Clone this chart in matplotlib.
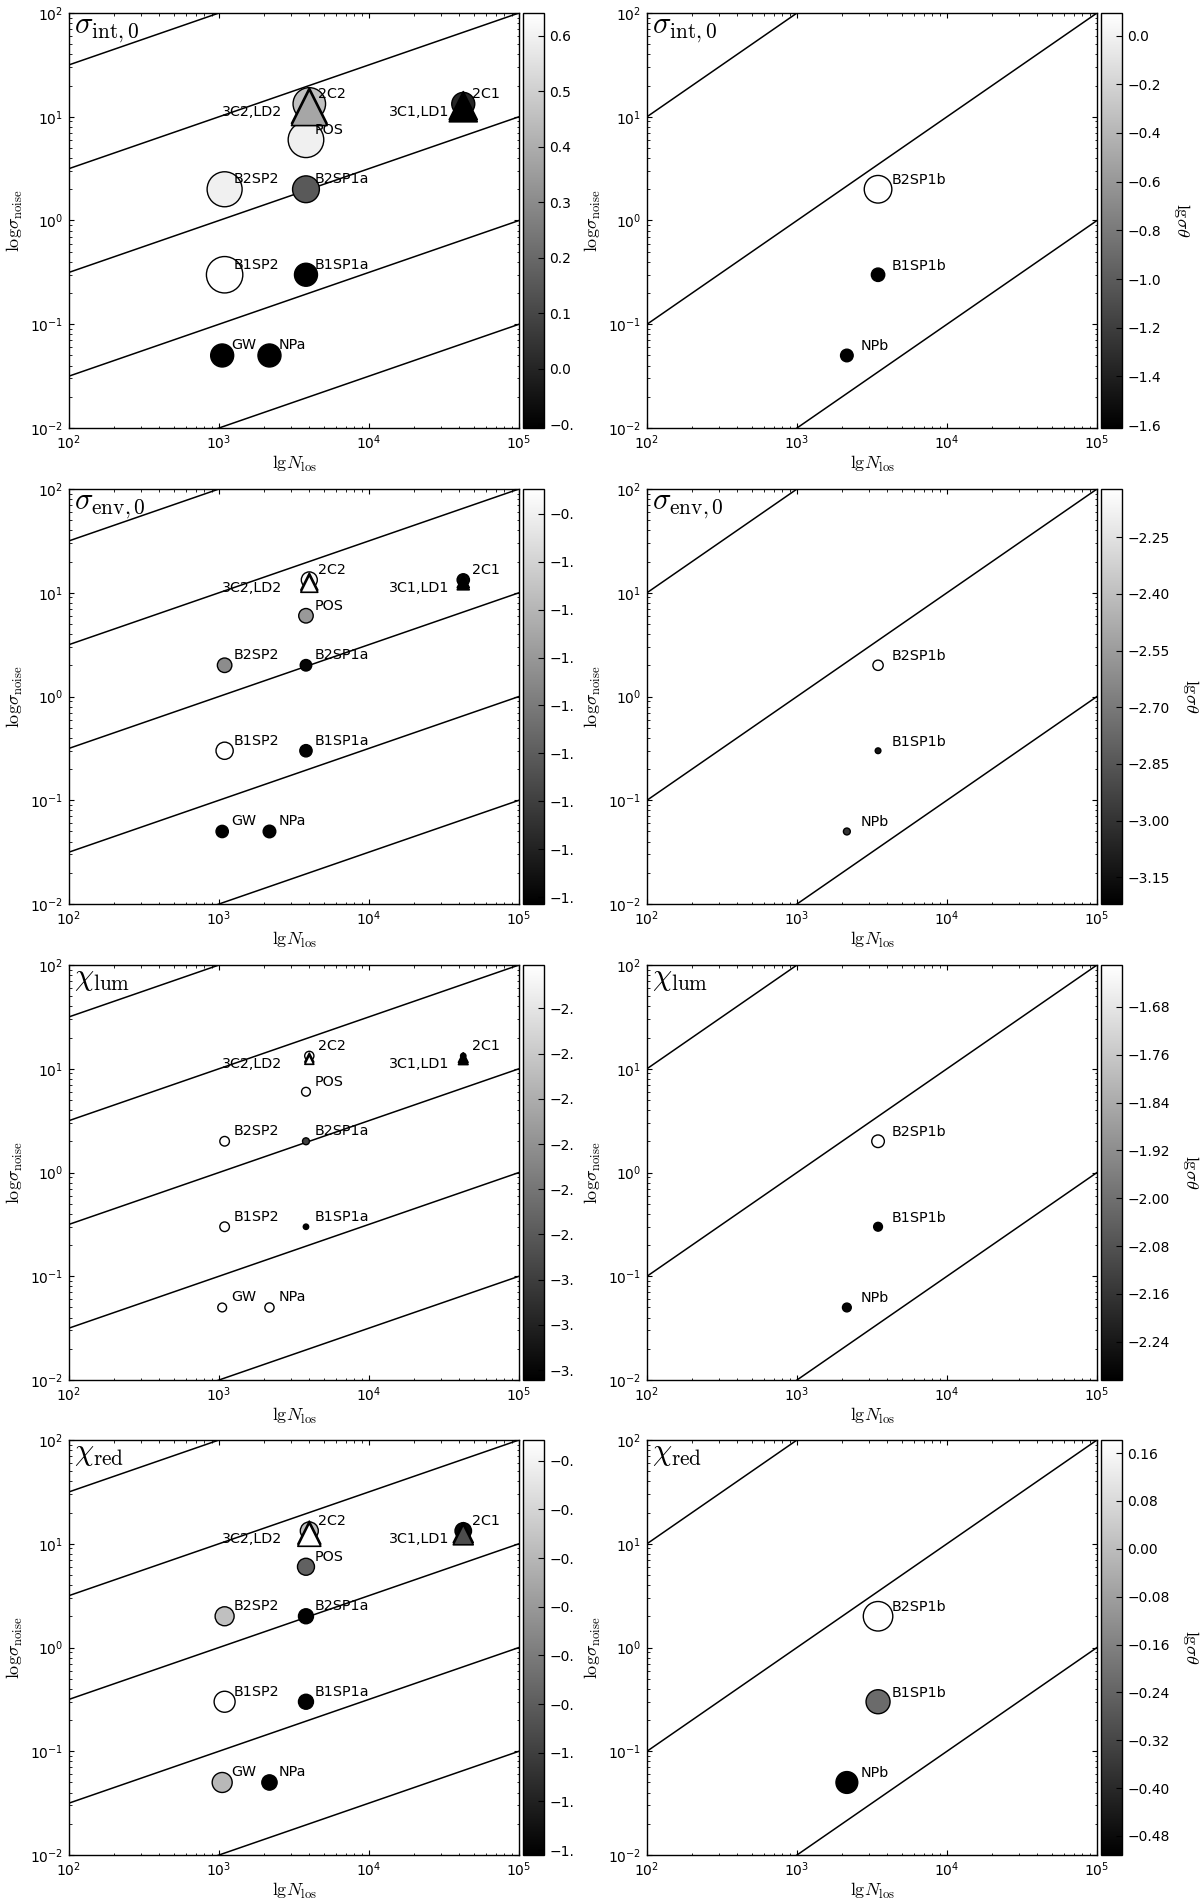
import numpy as np
import matplotlib
matplotlib.use('Agg')
import matplotlib.pyplot as plt
from matplotlib.ticker import FuncFormatter

plt.rcParams['font.family'] = ['DejaVu Sans']
plt.rcParams['mathtext.fontset'] = 'cm'
plt.rcParams['xtick.direction'] = 'in'
plt.rcParams['ytick.direction'] = 'in'
plt.rcParams['xtick.top'] = True
plt.rcParams['ytick.right'] = True

# survey points, left column (circles and triangles)
circ_names = ['GW', 'NPa', 'B1SP2', 'B1SP1a', 'B2SP2', 'B2SP1a', 'POS', '2C2', '2C1']
circ_nlos = [1050, 2170, 1090, 3800, 1090, 3800, 3800, 4000, 42500]
circ_noise = [0.05, 0.05, 0.3, 0.3, 2.0, 2.0, 6.0, 13.3, 13.3]

tri_names = ['3C2', 'LD2', '3C1', 'LD1']
tri_nlos = [4000, 4000, 42500, 42500]
tri_noise = [12.8, 12.2, 12.8, 12.2]
tri_labels = {'3C2': '3C2,LD2', '3C1': '3C1,LD1'}

# survey points, right column
b_names = ['B2SP1b', 'B1SP1b', 'NPb']
b_nlos = [3470, 3470, 2150]
b_noise = [2.0, 0.3, 0.05]

panel_titles = [r'$\sigma_{\rm int,0}$', r'$\sigma_{\rm env,0}$',
                r'$\chi_{\rm lum}$', r'$\chi_{\rm red}$']

# colour values and marker diameters (px), one set per panel
int0_circ_val = [-0.107, -0.105, 0.641, -0.105, 0.596, 0.155, 0.596, 0.454, 0.005]
int0_circ_diam = [23, 23, 36.4, 23, 35, 26.8, 35.6, 32.5, 23]
int0_tri_val = [0.38, 0.38, -0.107, -0.107]
int0_tri_diam = [35.6, 35.6, 28, 28]
int0_b_val = [0.093, -1.612, -1.60]
int0_b_diam = [27.6, 13.4, 12.6]

env0_circ_val = [-1.611, -1.605, -0.919, -1.605, -1.230, -1.597, -1.196, -0.933, -1.597]
env0_circ_diam = [12.3, 12.6, 17.2, 12.3, 14.5, 11.5, 14.5, 16, 12.3]
env0_tri_val = [-0.933, -0.933, -1.611, -1.611]
env0_tri_diam = [17, 17, 12, 12]
env0_b_val = [-2.122, -3.133, -3.001]
env0_b_diam = [10.3, 5.7, 6.9]

lum_circ_val = [-1.956, -1.960, -1.956, -3.333, -1.970, -2.99, -1.965, -1.960, -3.333]
lum_circ_diam = [8.8, 9.2, 9.6, 5.4, 9.6, 6.9, 8.8, 9.2, 5.4]
lum_tri_val = [-1.96, -1.96, -3.333, -3.333]
lum_tri_diam = [9, 9, 9.6, 9.6]
lum_b_val = [-1.610, -2.304, -2.29]
lum_b_diam = [12.6, 8.8, 8.8]

red_circ_val = [-0.717, -1.208, -0.526, -1.205, -0.696, -1.203, -0.949, -0.696, -1.188]
red_circ_diam = [20, 15.3, 21, 15, 19, 15, 17, 18, 16.5]
red_tri_val = [-0.526, -0.526, -1.003, -1.003]
red_tri_diam = [23, 23, 20, 20]
red_b_val = [0.182, -0.221, -0.512]
red_b_diam = [29.5, 24, 21.8]

# colour ranges and colourbar ticks (left column, right column)
left_range = [(-0.107, 0.641), (-1.611, -0.919), (-3.333, -1.956), (-1.208, -0.526)]
right_range = [(-1.612, 0.093), (-3.221, -2.122), (-2.304, -1.610), (-0.512, 0.182)]
left_ticks = [(-0.1, 0.6, 0.1), (-1.60, -0.96, 0.08), (-3.30, -2.10, 0.15), (-1.20, -0.56, 0.08)]
right_ticks = [(-1.6, 0.0, 0.2), (-3.15, -2.25, 0.15), (-2.24, -1.68, 0.08), (-0.48, 0.16, 0.08)]

circ_vals = [int0_circ_val, env0_circ_val, lum_circ_val, red_circ_val]
circ_diams = [int0_circ_diam, env0_circ_diam, lum_circ_diam, red_circ_diam]
tri_vals = [int0_tri_val, env0_tri_val, lum_tri_val, red_tri_val]
tri_diams = [int0_tri_diam, env0_tri_diam, lum_tri_diam, red_tri_diam]
b_vals = [int0_b_val, env0_b_val, lum_b_val, red_b_val]
b_diams = [int0_b_diam, env0_b_diam, lum_b_diam, red_b_diam]

W, H = 1200, 1901
PX_PER_PT = 100 / 72.0


def s_from_diam(d):
    return (np.asarray(d) / PX_PER_PT) ** 2


def make_ticks(lo, hi, step):
    n = int(round((hi - lo) / step)) + 1
    return np.round(lo + step * np.arange(n), 3)


def fmt_for(step, cut=False):
    nd = 1 if abs(step * 10 - round(step * 10)) < 1e-9 else 2
    def f(v, pos):
        v = round(v, nd) + 0.0
        txt = f'{v:.{nd}f}'.replace('-', '\u2212')
        # the left colourbar labels are cut off by the right-hand panels
        if cut and len(txt) > 3:
            txt = txt[:3]
        return txt
    return FuncFormatter(f)


def style_axes(ax, title):
    ax.set_xscale('log')
    ax.set_yscale('log')
    ax.set_xlim(1e2, 1e5)
    ax.set_ylim(1e-2, 1e2)
    ax.tick_params(which='major', length=3.5, width=0.8, labelsize=10, pad=4)
    ax.tick_params(which='minor', length=1.8, width=0.6)
    for sp in ax.spines.values():
        sp.set_linewidth(1.0)
    ax.set_xlabel(r'${\rm lg}N_{\rm los}$', fontsize=13, labelpad=1)
    ax.set_ylabel(r'${\rm log}\sigma_{\rm noise}$', fontsize=13, labelpad=4)
    ax.text(0.012, 0.952, title, transform=ax.transAxes, fontsize=22,
            ha='left', va='baseline')


fig = plt.figure(figsize=(W / 100, H / 100), dpi=100)
fig.patch.set_facecolor('white')

row_tops = [13, 489, 965, 1440]
ax_h = 415
ax_w = 450
left_x, right_x = 69, 647
cb_gap, cb_w = 4, 21

xs = np.logspace(2, 5, 200)

for r in range(4):
    y0 = (H - row_tops[r] - ax_h) / H

    # ---------- left column ----------
    axL = fig.add_axes([left_x / W, y0, ax_w / W, ax_h / H])
    vmin, vmax = left_range[r]
    for k in [0.5, -0.5, -1.5, -2.5, -3.5]:
        axL.plot(xs, 10 ** k * np.sqrt(xs), color='k', lw=1.1)
    sc = axL.scatter(circ_nlos, circ_noise, c=circ_vals[r], s=s_from_diam(circ_diams[r]),
                     cmap='gray', vmin=vmin, vmax=vmax, edgecolors='k',
                     linewidths=1.0, zorder=3, marker='o')
    axL.scatter(tri_nlos, tri_noise, c=tri_vals[r], s=s_from_diam(tri_diams[r]),
                cmap='gray', vmin=vmin, vmax=vmax, edgecolors='k',
                linewidths=1.2, zorder=4, marker='^')
    for name, xv, yv in zip(circ_names, circ_nlos, circ_noise):
        axL.annotate(name, (xv, yv), xytext=(9, 6), textcoords='offset pixels',
                     fontsize=10.3, ha='left', va='baseline', zorder=5)
    for name, xv, yv in zip(tri_names, tri_nlos, tri_noise):
        if name in tri_labels:
            dx = -27 if name == '3C2' else -14
            axL.annotate(tri_labels[name], (xv, yv), xytext=(dx, -10),
                         textcoords='offset pixels', fontsize=10.3,
                         ha='right', va='baseline', zorder=5)
    style_axes(axL, panel_titles[r])

    caxL = fig.add_axes([(left_x + ax_w + cb_gap) / W, y0, cb_w / W, ax_h / H])
    cb = fig.colorbar(sc, cax=caxL)
    lo, hi, st = left_ticks[r]
    cb.set_ticks(make_ticks(lo, hi, st))
    cb.ax.yaxis.set_major_formatter(fmt_for(st, cut=True))
    cb.ax.minorticks_off()
    cb.ax.tick_params(direction='in', length=4, width=0.8, labelsize=10, pad=4)
    cb.outline.set_linewidth(1.0)

    # ---------- right column ----------
    axR = fig.add_axes([right_x / W, y0, ax_w / W, ax_h / H])
    vmin, vmax = right_range[r]
    for k in [1, -1, -3, -5]:
        axR.plot(xs, 10.0 ** k * xs, color='k', lw=1.1)
    scR = axR.scatter(b_nlos, b_noise, c=b_vals[r], s=s_from_diam(b_diams[r]),
                      cmap='gray', vmin=vmin, vmax=vmax, edgecolors='k',
                      linewidths=1.0, zorder=3)
    for name, xv, yv in zip(b_names, b_nlos, b_noise):
        axR.annotate(name, (xv, yv), xytext=(14, 5), textcoords='offset pixels',
                     fontsize=10.3, ha='left', va='baseline', zorder=5)
    style_axes(axR, panel_titles[r])

    caxR = fig.add_axes([(right_x + ax_w + cb_gap) / W, y0, cb_w / W, ax_h / H])
    cbR = fig.colorbar(scR, cax=caxR)
    lo, hi, st = right_ticks[r]
    cbR.set_ticks(make_ticks(lo, hi, st))
    cbR.ax.yaxis.set_major_formatter(fmt_for(st))
    cbR.ax.minorticks_off()
    cbR.ax.tick_params(direction='in', length=4, width=0.8, labelsize=10, pad=4)
    cbR.outline.set_linewidth(1.0)
    cbR.ax.set_ylabel(r'${\rm lg}\sigma\theta$', rotation=270, fontsize=13,
                      va='bottom', labelpad=8)

fig.savefig('out.png', dpi=100, facecolor='white')
